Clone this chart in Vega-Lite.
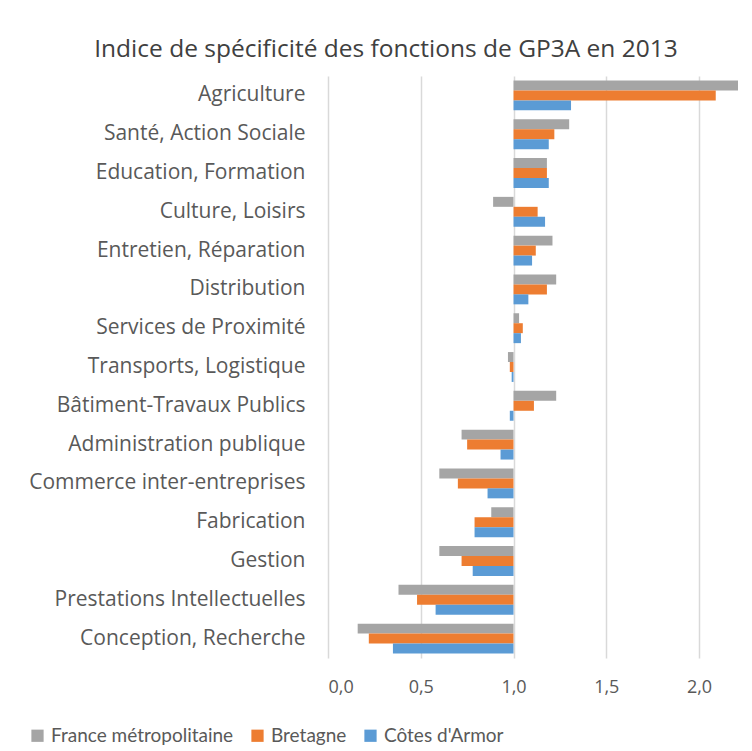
{
  "$schema": "https://vega.github.io/schema/vega-lite/v6.json",
  "width": 410,
  "height": 582,
  "autosize": {"type": "none"},
  "padding": {"left": 328, "top": 76, "right": 14, "bottom": 93},
  "background": "white",
  "title": {
    "text": "Indice de spécificité des fonctions de GP3A en 2013",
    "anchor": "middle",
    "dx": -147,
    "offset": 14,
    "font": "Open Sans",
    "fontSize": 24.5,
    "fontWeight": "normal",
    "color": "#404040"
  },
  "data": {
    "values": [
      {"cat": "Agriculture", "series": "France métropolitaine", "v": 2.3},
      {"cat": "Agriculture", "series": "Bretagne", "v": 2.09},
      {"cat": "Agriculture", "series": "Côtes d'Armor", "v": 1.31},
      {"cat": "Santé, Action Sociale", "series": "France métropolitaine", "v": 1.3},
      {"cat": "Santé, Action Sociale", "series": "Bretagne", "v": 1.22},
      {"cat": "Santé, Action Sociale", "series": "Côtes d'Armor", "v": 1.19},
      {"cat": "Education, Formation", "series": "France métropolitaine", "v": 1.18},
      {"cat": "Education, Formation", "series": "Bretagne", "v": 1.18},
      {"cat": "Education, Formation", "series": "Côtes d'Armor", "v": 1.19},
      {"cat": "Culture, Loisirs", "series": "France métropolitaine", "v": 0.89},
      {"cat": "Culture, Loisirs", "series": "Bretagne", "v": 1.13},
      {"cat": "Culture, Loisirs", "series": "Côtes d'Armor", "v": 1.17},
      {"cat": "Entretien, Réparation", "series": "France métropolitaine", "v": 1.21},
      {"cat": "Entretien, Réparation", "series": "Bretagne", "v": 1.12},
      {"cat": "Entretien, Réparation", "series": "Côtes d'Armor", "v": 1.1},
      {"cat": "Distribution", "series": "France métropolitaine", "v": 1.23},
      {"cat": "Distribution", "series": "Bretagne", "v": 1.18},
      {"cat": "Distribution", "series": "Côtes d'Armor", "v": 1.08},
      {"cat": "Services de Proximité", "series": "France métropolitaine", "v": 1.03},
      {"cat": "Services de Proximité", "series": "Bretagne", "v": 1.05},
      {"cat": "Services de Proximité", "series": "Côtes d'Armor", "v": 1.04},
      {"cat": "Transports, Logistique", "series": "France métropolitaine", "v": 0.97},
      {"cat": "Transports, Logistique", "series": "Bretagne", "v": 0.98},
      {"cat": "Transports, Logistique", "series": "Côtes d'Armor", "v": 0.99},
      {"cat": "Bâtiment-Travaux Publics", "series": "France métropolitaine", "v": 1.23},
      {"cat": "Bâtiment-Travaux Publics", "series": "Bretagne", "v": 1.11},
      {"cat": "Bâtiment-Travaux Publics", "series": "Côtes d'Armor", "v": 0.98},
      {"cat": "Administration publique", "series": "France métropolitaine", "v": 0.72},
      {"cat": "Administration publique", "series": "Bretagne", "v": 0.75},
      {"cat": "Administration publique", "series": "Côtes d'Armor", "v": 0.93},
      {"cat": "Commerce inter-entreprises", "series": "France métropolitaine", "v": 0.6},
      {"cat": "Commerce inter-entreprises", "series": "Bretagne", "v": 0.7},
      {"cat": "Commerce inter-entreprises", "series": "Côtes d'Armor", "v": 0.86},
      {"cat": "Fabrication", "series": "France métropolitaine", "v": 0.88},
      {"cat": "Fabrication", "series": "Bretagne", "v": 0.79},
      {"cat": "Fabrication", "series": "Côtes d'Armor", "v": 0.79},
      {"cat": "Gestion", "series": "France métropolitaine", "v": 0.6},
      {"cat": "Gestion", "series": "Bretagne", "v": 0.72},
      {"cat": "Gestion", "series": "Côtes d'Armor", "v": 0.78},
      {"cat": "Prestations Intellectuelles", "series": "France métropolitaine", "v": 0.38},
      {"cat": "Prestations Intellectuelles", "series": "Bretagne", "v": 0.48},
      {"cat": "Prestations Intellectuelles", "series": "Côtes d'Armor", "v": 0.58},
      {"cat": "Conception, Recherche", "series": "France métropolitaine", "v": 0.16},
      {"cat": "Conception, Recherche", "series": "Bretagne", "v": 0.22},
      {"cat": "Conception, Recherche", "series": "Côtes d'Armor", "v": 0.35}
    ]
  },
  "mark": {"type": "bar", "clip": true},
  "encoding": {
    "y": {
      "field": "cat",
      "type": "nominal",
      "sort": null,
      "scale": {"paddingInner": 0.23, "paddingOuter": 0.115},
      "axis": {
        "title": null,
        "ticks": false,
        "domain": false,
        "labelFont": "Open Sans",
        "labelFontSize": 21,
        "labelColor": "#595959",
        "labelPadding": 23,
        "labelLimit": 400
      }
    },
    "yOffset": {
      "field": "series",
      "type": "nominal",
      "sort": ["France métropolitaine", "Bretagne", "Côtes d'Armor"],
      "scale": {"paddingInner": 0, "paddingOuter": 0}
    },
    "x": {
      "field": "v",
      "type": "quantitative",
      "scale": {"domain": [0, 2.21], "nice": false, "zero": false},
      "axis": {
        "title": null,
        "values": [0, 0.5, 1, 1.5, 2],
        "labelExpr": "replace(format(datum.value, '.1f'), '.', ',')",
        "ticks": false,
        "domain": false,
        "grid": true,
        "gridColor": "#d9d9d9",
        "gridWidth": 1.5,
        "labelFont": "Open Sans",
        "labelFontSize": 18,
        "labelColor": "#595959",
        "labelPadding": 20
      }
    },
    "x2": {"datum": 1},
    "color": {
      "field": "series",
      "type": "nominal",
      "sort": ["France métropolitaine", "Bretagne", "Côtes d'Armor"],
      "scale": {
        "domain": ["France métropolitaine", "Bretagne", "Côtes d'Armor"],
        "range": ["#a5a5a5", "#ed7d31", "#5b9bd5"]
      },
      "legend": {
        "title": null,
        "orient": "none",
        "direction": "horizontal",
        "legendX": -300,
        "legendY": 650,
        "symbolType": "square",
        "symbolSize": 150,
        "symbolStrokeWidth": 0,
        "labelFont": "Lato",
        "labelFontSize": 19,
        "labelColor": "#595959",
        "labelLimit": 400,
        "columnPadding": 14,
        "labelOffset": 4
      }
    }
  },
  "config": {
    "view": {"stroke": null}
  }
}
